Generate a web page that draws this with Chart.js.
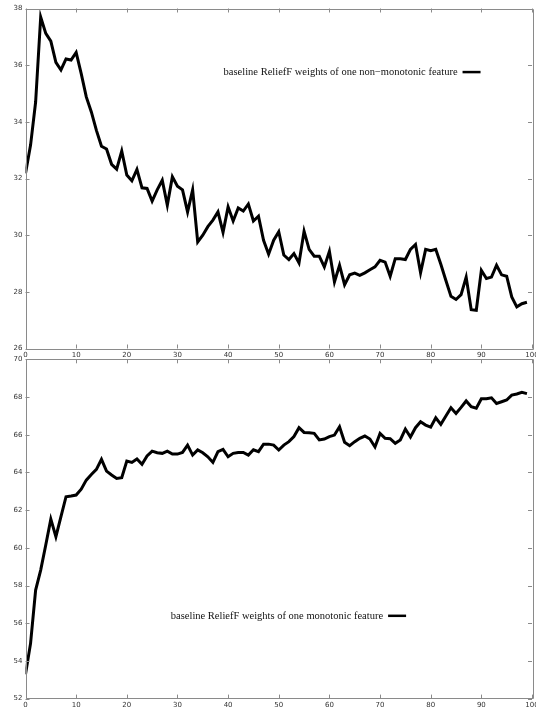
<!DOCTYPE html>
<html>
<head>
<meta charset="utf-8">
<script src="https://cdn.jsdelivr.net/npm/chart.js@4/dist/chart.umd.min.js"></script>
<style>
  html, body { margin: 0; padding: 0; background: #fff; width: 536px; height: 708px; overflow: hidden; }
  canvas { position: absolute; left: 0; }
  #topChart { top: 0; }
  #bottomChart { top: 352px; }
</style>
</head>
<body>
<canvas id="topChart" width="560" height="362"></canvas>
<canvas id="bottomChart" width="560" height="360"></canvas>
<script>
// Sample index along the x axis
const steps = [
  0, 1, 2, 3, 4, 5, 6, 7, 8, 9,
  10, 11, 12, 13, 14, 15, 16, 17, 18, 19,
  20, 21, 22, 23, 24, 25, 26, 27, 28, 29,
  30, 31, 32, 33, 34, 35, 36, 37, 38, 39,
  40, 41, 42, 43, 44, 45, 46, 47, 48, 49,
  50, 51, 52, 53, 54, 55, 56, 57, 58, 59,
  60, 61, 62, 63, 64, 65, 66, 67, 68, 69,
  70, 71, 72, 73, 74, 75, 76, 77, 78, 79,
  80, 81, 82, 83, 84, 85, 86, 87, 88, 89,
  90, 91, 92, 93, 94, 95, 96, 97, 98, 99
];

// ReliefF weights of a non-monotonic feature
const nonMonotonicWeights = [
  32.18, 33.18, 34.70, 37.70, 37.12, 36.85, 36.10, 35.83, 36.22, 36.18,
  36.45, 35.70, 34.88, 34.35, 33.70, 33.14, 33.04, 32.50, 32.33, 32.97,
  32.12, 31.92, 32.32, 31.67, 31.65, 31.20, 31.60, 31.94, 31.06, 32.06,
  31.73, 31.60, 30.82, 31.60, 29.76, 30.00, 30.30, 30.53, 30.82, 30.10,
  31.00, 30.50, 30.96, 30.85, 31.10, 30.50, 30.67, 29.82, 29.33, 29.82,
  30.12, 29.30, 29.14, 29.35, 29.02, 30.14, 29.50, 29.26, 29.26, 28.88,
  29.43, 28.35, 28.94, 28.25, 28.60, 28.66, 28.58, 28.67, 28.78, 28.88,
  29.11, 29.05, 28.55, 29.17, 29.17, 29.14, 29.50, 29.67, 28.67, 29.50,
  29.45, 29.50, 28.97, 28.40, 27.84, 27.73, 27.90, 28.52, 27.37, 27.35,
  28.76, 28.47, 28.52, 28.94, 28.60, 28.55, 27.82, 27.47, 27.58, 27.63
];

// ReliefF weights of a monotonic feature
const monotonicWeights = [
  53.29, 54.93, 57.76, 58.82, 60.15, 61.52, 60.59, 61.65, 62.71, 62.75,
  62.80, 63.11, 63.59, 63.89, 64.16, 64.69, 64.07, 63.86, 63.68, 63.72,
  64.60, 64.53, 64.71, 64.43, 64.87, 65.13, 65.04, 65.01, 65.13, 64.97,
  64.97, 65.06, 65.45, 64.92, 65.19, 65.04, 64.83, 64.53, 65.10, 65.22,
  64.83, 65.01, 65.06, 65.06, 64.92, 65.20, 65.10, 65.50, 65.50, 65.45,
  65.19, 65.45, 65.63, 65.90, 66.37, 66.12, 66.10, 66.07, 65.72, 65.77,
  65.90, 65.98, 66.42, 65.60, 65.42, 65.63, 65.81, 65.93, 65.77, 65.35,
  66.07, 65.81, 65.79, 65.54, 65.72, 66.30, 65.88, 66.37, 66.69, 66.51,
  66.40, 66.90, 66.55, 66.99, 67.43, 67.13, 67.45, 67.79, 67.48, 67.40,
  67.91, 67.91, 67.96, 67.66, 67.75, 67.84, 68.10, 68.16, 68.25, 68.18
];

// Axis ranges and tick spacing
const xRange = [0, 100];
const xTickStep = 10;
const topYRange = [26, 38];
const bottomYRange = [52, 70];
const yTickStep = 2;

const topLabel = 'baseline ReliefF weights of one non\u2212monotonic feature';
const bottomLabel = 'baseline ReliefF weights of one monotonic feature';

const FRAME = '#8a8a8a';
const TICK_FONT = { family: 'DejaVu Sans', size: 7 };

// Gnuplot-style frame with inward tick marks on all four sides,
// plus a key placed inside the plot (text first, sample line after).
const framePlugin = {
  id: 'frame',
  afterDatasetsDraw(chart, args, opts) {
    const { ctx, chartArea: a, scales } = chart;
    ctx.save();
    ctx.strokeStyle = FRAME;
    ctx.lineWidth = 1;
    ctx.beginPath();
    ctx.rect(Math.round(a.left) + 0.5, Math.round(a.top) + 0.5,
             Math.round(a.right - a.left), Math.round(a.bottom - a.top));
    ctx.stroke();
    const len = 4;
    ctx.beginPath();
    scales.x.ticks.forEach(t => {
      const px = Math.round(scales.x.getPixelForValue(t.value)) + 0.5;
      ctx.moveTo(px, a.bottom); ctx.lineTo(px, a.bottom - len);
      ctx.moveTo(px, a.top); ctx.lineTo(px, a.top + len);
    });
    scales.y.ticks.forEach(t => {
      const py = Math.round(scales.y.getPixelForValue(t.value)) + 0.5;
      ctx.moveTo(a.left, py); ctx.lineTo(a.left + len, py);
      ctx.moveTo(a.right, py); ctx.lineTo(a.right - len, py);
    });
    ctx.stroke();

    // key
    const ds = chart.data.datasets[0];
    const kx = a.left + (a.right - a.left) * opts.keyRight;
    const ky = a.top + (a.bottom - a.top) * opts.keyY;
    ctx.font = '10.5px "Liberation Serif", "Times New Roman", serif';
    ctx.fillStyle = '#111';
    ctx.textAlign = 'right';
    ctx.textBaseline = 'middle';
    ctx.fillText(ds.label, kx, ky);
    ctx.strokeStyle = ds.borderColor;
    ctx.lineWidth = 2.5;
    ctx.beginPath();
    ctx.moveTo(kx + 5, ky);
    ctx.lineTo(kx + 23, ky);
    ctx.stroke();
    ctx.restore();
  }
};

function makeChart(id, label, values, yRange, pad, axisHeight, keyRight, keyY) {
  return new Chart(document.getElementById(id), {
    type: 'line',
    data: {
      datasets: [{
        label: label,
        data: steps.map((s, i) => ({ x: s, y: values[i] })),
        borderColor: '#000',
        borderWidth: 3,
        pointRadius: 0,
        tension: 0,
        fill: false
      }]
    },
    options: {
      responsive: false,
      animation: false,
      devicePixelRatio: 1,
      layout: { padding: pad },
      plugins: {
        legend: { display: false },
        tooltip: { enabled: false },
        frame: { keyRight: keyRight, keyY: keyY }
      },
      scales: {
        x: {
          type: 'linear',
          min: xRange[0], max: xRange[1],
          grid: { display: false, drawTicks: false },
          border: { display: false },
          ticks: { stepSize: xTickStep, font: TICK_FONT, color: '#333', padding: 2, maxRotation: 0 },
          afterFit(scale) { scale.height = axisHeight; }
        },
        y: {
          min: yRange[0], max: yRange[1],
          grid: { display: false, drawTicks: false },
          border: { display: false },
          ticks: { stepSize: yTickStep, font: TICK_FONT, color: '#333', padding: 3 },
          afterFit(scale) { scale.width = 25.5; }
        }
      }
    },
    plugins: [framePlugin]
  });
}

makeChart('topChart', topLabel, nonMonotonicWeights, topYRange,
  { top: 8.5, right: 28, bottom: 0, left: 0 }, 13.5, 0.853, 0.187);
makeChart('bottomChart', bottomLabel, monotonicWeights, bottomYRange,
  { top: 7.3, right: 28, bottom: 0, left: 0 }, 13.4, 0.706, 0.756);
</script>
</body>
</html>
